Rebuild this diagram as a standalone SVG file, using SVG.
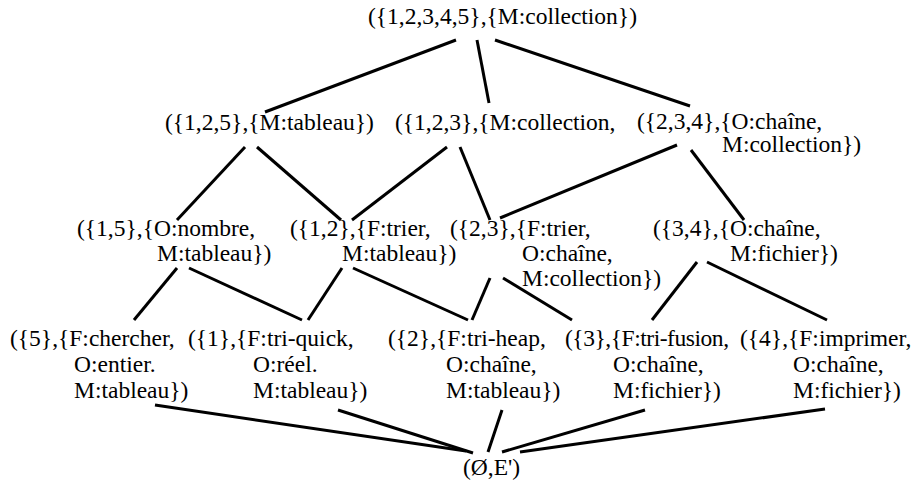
<svg xmlns="http://www.w3.org/2000/svg" width="920" height="487" viewBox="0 0 920 487">
<style>
.e line{stroke:#000;stroke-width:3;stroke-linecap:butt}
.t{font-family:'Liberation Serif','Times New Roman',serif;font-size:23.5px;fill:#000}
</style>
<rect width="920" height="487" fill="#fff"/>
<g class="e" id="connectors">
<line x1="456" y1="40" x2="265" y2="112"/>
<line x1="477" y1="40" x2="489" y2="103"/>
<line x1="495" y1="40" x2="690" y2="106"/>
<line x1="245" y1="147" x2="177" y2="220"/>
<line x1="257" y1="147" x2="341" y2="220"/>
<line x1="447" y1="147" x2="352" y2="220"/>
<line x1="460" y1="147" x2="490" y2="220"/>
<line x1="677" y1="145" x2="500" y2="218"/>
<line x1="691" y1="150" x2="744" y2="220"/>
<line x1="177" y1="268" x2="134" y2="320"/>
<line x1="189" y1="268" x2="302" y2="320"/>
<line x1="342" y1="268" x2="308" y2="320"/>
<line x1="353" y1="268" x2="468" y2="320"/>
<line x1="490" y1="278" x2="472" y2="320"/>
<line x1="503" y1="278" x2="572" y2="320"/>
<line x1="697" y1="262" x2="652" y2="320"/>
<line x1="707" y1="262" x2="827" y2="320"/>
<line x1="155" y1="405" x2="466" y2="451"/>
<line x1="338" y1="410" x2="473" y2="453"/>
<line x1="502" y1="410" x2="488" y2="452"/>
<line x1="645" y1="410" x2="502" y2="452"/>
<line x1="825" y1="409" x2="520" y2="452"/>
</g>
<g class="t">
<g id="n12345"><text x="368" y="24">({1,2,3,4,5},{M:collection})</text></g>
<g id="n125"><text x="165" y="130">({1,2,5},{M:tableau})</text></g>
<g id="n123"><text x="395" y="130">({1,2,3},{M:collection,</text></g>
<g id="n234"><text x="637" y="129">({2,3,4},{O:chaîne,</text><text x="722" y="152">M:collection})</text></g>
<g id="n15"><text x="77" y="236">({1,5},{O:nombre,</text><text x="157" y="261">M:tableau})</text></g>
<g id="n12"><text x="290" y="236">({1,2},{F:trier,</text><text x="342" y="261">M:tableau})</text></g>
<g id="n23"><text x="450" y="236">({2,3},{F:trier,</text><text x="522" y="261">O:chaîne,</text><text x="522" y="286">M:collection})</text></g>
<g id="n34"><text x="653" y="236">({3,4},{O:chaîne,</text><text x="730" y="261">M:fichier})</text></g>
<g id="n5"><text x="10" y="346">({5},{F:chercher,</text><text x="74" y="372">O:entier.</text><text x="74" y="398">M:tableau})</text></g>
<g id="n1"><text x="188" y="346">({1},{F:tri-quick,</text><text x="253" y="372">O:réel.</text><text x="253" y="398">M:tableau})</text></g>
<g id="n2"><text x="388" y="346">({2},{F:tri-heap,</text><text x="446" y="372">O:chaîne,</text><text x="446" y="398">M:tableau})</text></g>
<g id="n3"><text x="565" y="346" textLength="164" lengthAdjust="spacing">({3},{F:tri-fusion,</text><text x="613" y="372">O:chaîne,</text><text x="613" y="398">M:fichier})</text></g>
<g id="n4"><text x="740" y="346">({4},{F:imprimer,</text><text x="793" y="372">O:chaîne,</text><text x="793" y="398">M:fichier})</text></g>
<g id="nbot"><text x="463" y="475">(Ø,E')</text></g>
</g>
</svg>
